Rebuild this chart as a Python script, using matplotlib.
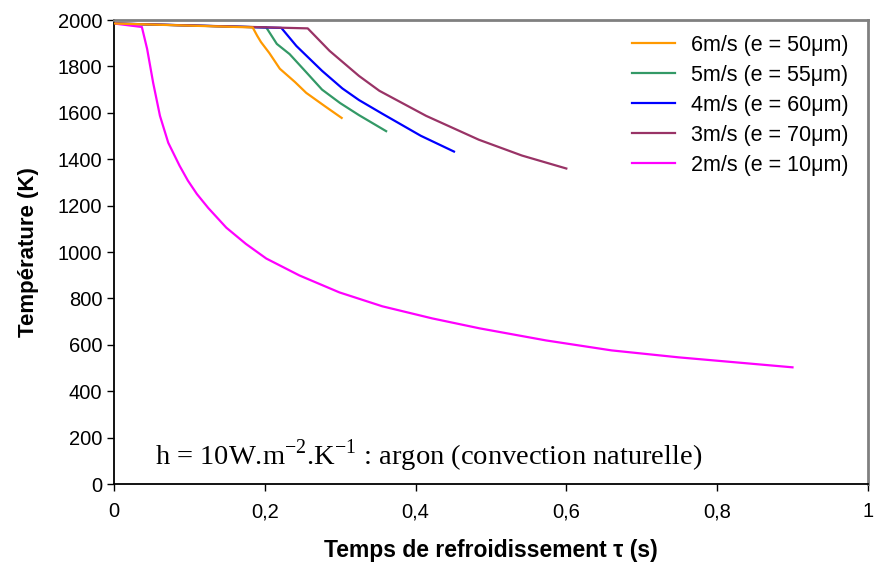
import matplotlib.pyplot as plt

# ---- data ----
t_6 = [0, 0.184, 0.19, 0.195, 0.206, 0.22, 0.24, 0.255, 0.28, 0.302]
T_6 = [1985, 1968, 1932, 1905, 1858, 1790, 1733, 1686, 1628, 1578]

t_5 = [0, 0.202, 0.216, 0.233, 0.255, 0.276, 0.3, 0.325, 0.361]
T_5 = [1985, 1968, 1897, 1853, 1775, 1700, 1642, 1590, 1521]

t_4 = [0, 0.222, 0.242, 0.276, 0.303, 0.325, 0.356, 0.407, 0.451]
T_4 = [1985, 1966, 1888, 1781, 1705, 1655, 1596, 1501, 1433]

t_3 = [0, 0.257, 0.286, 0.325, 0.352, 0.414, 0.484, 0.541, 0.6]
T_3 = [1985, 1964, 1867, 1759, 1695, 1587, 1484, 1416, 1360]

t_2 = [0, 0.037, 0.044, 0.052, 0.061, 0.072, 0.087, 0.098, 0.11, 0.125, 0.138,
       0.149, 0.175, 0.202, 0.246, 0.299, 0.356, 0.422, 0.485, 0.573, 0.66,
       0.749, 0.837, 0.9]
T_2 = [1985, 1970, 1875, 1729, 1587, 1471, 1372, 1308, 1250, 1190, 1144,
       1105, 1035, 972, 899, 826, 766, 714, 671, 619, 576,
       546, 521, 503]

labels = ["6m/s (e = 50\u03bcm)", "5m/s (e = 55\u03bcm)", "4m/s (e = 60\u03bcm)",
          "3m/s (e = 70\u03bcm)", "2m/s (e = 10\u03bcm)"]
colors = ["#FF9900", "#339966", "#0000FF", "#993366", "#FF00FF"]

x_ticks = [0, 0.2, 0.4, 0.6, 0.8, 1]
x_ticklabels = ["0", "0,2", "0,4", "0,6", "0,8", "1"]
y_ticks = list(range(0, 2001, 200))

plt.rcParams["font.family"] = ["Liberation Sans", "DejaVu Sans"]

fig = plt.figure(figsize=(8.74, 5.72), dpi=100)
ax = fig.add_axes([0.1304, 0.1538, 0.8626, 0.8112])

series = [(t_6, T_6), (t_5, T_5), (t_4, T_4), (t_3, T_3), (t_2, T_2)]
handles = []
for (t, T), lab, col in zip(series, labels, colors):
    h, = ax.plot(t, T, color=col, lw=1.6, label=lab)
    handles.append(h)
# orange on top, as in the original
handles[0].set_zorder(5)

ax.set_xlim(0, 1)
ax.set_ylim(0, 2000)
ax.set_xticks(x_ticks)
ax.set_xticklabels(x_ticklabels)
ax.set_yticks(y_ticks)
ax.tick_params(axis="both", direction="out", length=5, width=1,
               labelsize=14.5, colors="black")
ax.tick_params(axis="x", pad=8)

for side in ("left", "bottom"):
    ax.spines[side].set_color("black")
    ax.spines[side].set_linewidth(1.3)
for side in ("top", "right"):
    ax.spines[side].set_color("#808080")
    ax.spines[side].set_linewidth(2)

ax.set_xlabel("Temps de refroidissement \u03c4 (s)", fontsize=16.5,
              fontweight="bold", labelpad=13)
ax.set_ylabel("Température (K)", fontsize=16, fontweight="bold", labelpad=13)

ax.legend(handles=handles, loc="upper right", frameon=False, fontsize=15.5,
          handlelength=2.0, handletextpad=0.75, labelspacing=0.42,
          bbox_to_anchor=(1.0, 1.01))

ax.text(0.055, 0.062,
        r"h = 10W.m$^{\mathregular{-2}}$.K$^{\mathregular{-1}}$ : argon (convection naturelle)",
        transform=ax.transAxes, fontsize=20.5, family="Liberation Serif",
        ha="left", va="center")

fig.savefig("out.png", dpi=100)
